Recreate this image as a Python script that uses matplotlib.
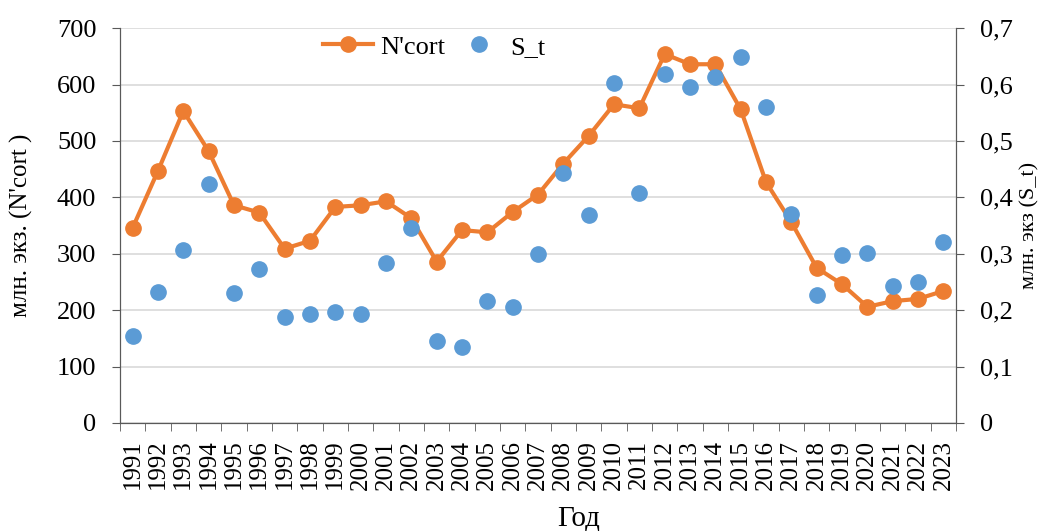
import matplotlib.pyplot as plt
import numpy as np

plt.rcParams['font.family'] = ['Liberation Serif', 'DejaVu Serif']

years = [str(y) for y in range(1991, 2024)]
ncort = [346, 447, 553, 482, 386, 373, 309, 323, 383, 386, 393, 363, 286, 342, 338,
         374, 405, 460, 509, 565, 558, 654, 636, 636, 556, 427, 356, 275, 246, 206,
         216, 220, 234]
s_t = [0.154, 0.232, 0.307, 0.423, 0.230, 0.273, 0.188, 0.193, 0.197, 0.194, 0.283,
       0.346, 0.146, 0.135, 0.216, 0.206, 0.300, 0.444, 0.368, 0.602, 0.408, 0.619,
       0.595, 0.613, 0.649, 0.561, 0.370, 0.227, 0.298, 0.301, 0.243, 0.250, 0.320]

orange = '#ED7D31'
blue = '#5B9BD5'
x = np.arange(1, len(years) + 1)

fig = plt.figure(figsize=(10.46, 5.31), dpi=100)
ax = fig.add_axes([0.1147, 0.2034, 0.7993, 0.7436])
ax2 = ax.twinx()

l1, = ax.plot(x, ncort, color=orange, lw=3, marker='o', ms=11, label="N'cort")
l2, = ax2.plot(x, s_t, ls='none', color=blue, marker='o', ms=11, label='S_t')

ax.set_xlim(0.5, len(years) + 0.5)
ax.set_ylim(0, 700)
ax2.set_ylim(0, 0.7)
ax.set_yticks(range(0, 701, 100))
ax2.set_yticks(np.arange(0, 0.71, 0.1))
ax2.set_yticklabels(['0'] + ['0,%d' % i for i in range(1, 8)])

ax.set_xticks(x)
ax.set_xticklabels(years, rotation=90, fontsize=18)
ax.tick_params(axis='x', which='major', length=0, pad=12)
ax.set_xticks(np.arange(0.5, len(years) + 1), minor=True)
ax.tick_params(axis='x', which='minor', length=6, color='#595959')

ax.grid(axis='y', color='#D9D9D9', lw=1.2)
ax.set_axisbelow(True)
for a in (ax, ax2):
    a.spines['top'].set_visible(False)
    for s in ('left', 'right', 'bottom'):
        a.spines[s].set_color('#595959')
    a.tick_params(axis='y', labelsize=19, colors='#595959', labelcolor='black',
                  length=6, pad=11)

ax.set_ylabel("млн. экз. (N'cort )", fontsize=18)
ax.yaxis.set_label_coords(-0.104, 0.5)
ax2.set_ylabel("млн. экз (S_t)", fontsize=16)
ax2.yaxis.set_label_coords(1.0766, 0.5)
ax.set_xlabel('Год', fontsize=21, va='center')
ax.xaxis.set_label_coords(0.548, -0.243)

fig.legend([l1, l2], ["N'cort", 'S_t'], loc='center left',
           bbox_to_anchor=(323 / 1046, 1 - 47 / 531), ncol=2, frameon=False,
           fontsize=19, handlelength=1.9, handletextpad=0.25, columnspacing=0.35,
           borderpad=0, borderaxespad=0)

fig.savefig('out.png', dpi=100)
